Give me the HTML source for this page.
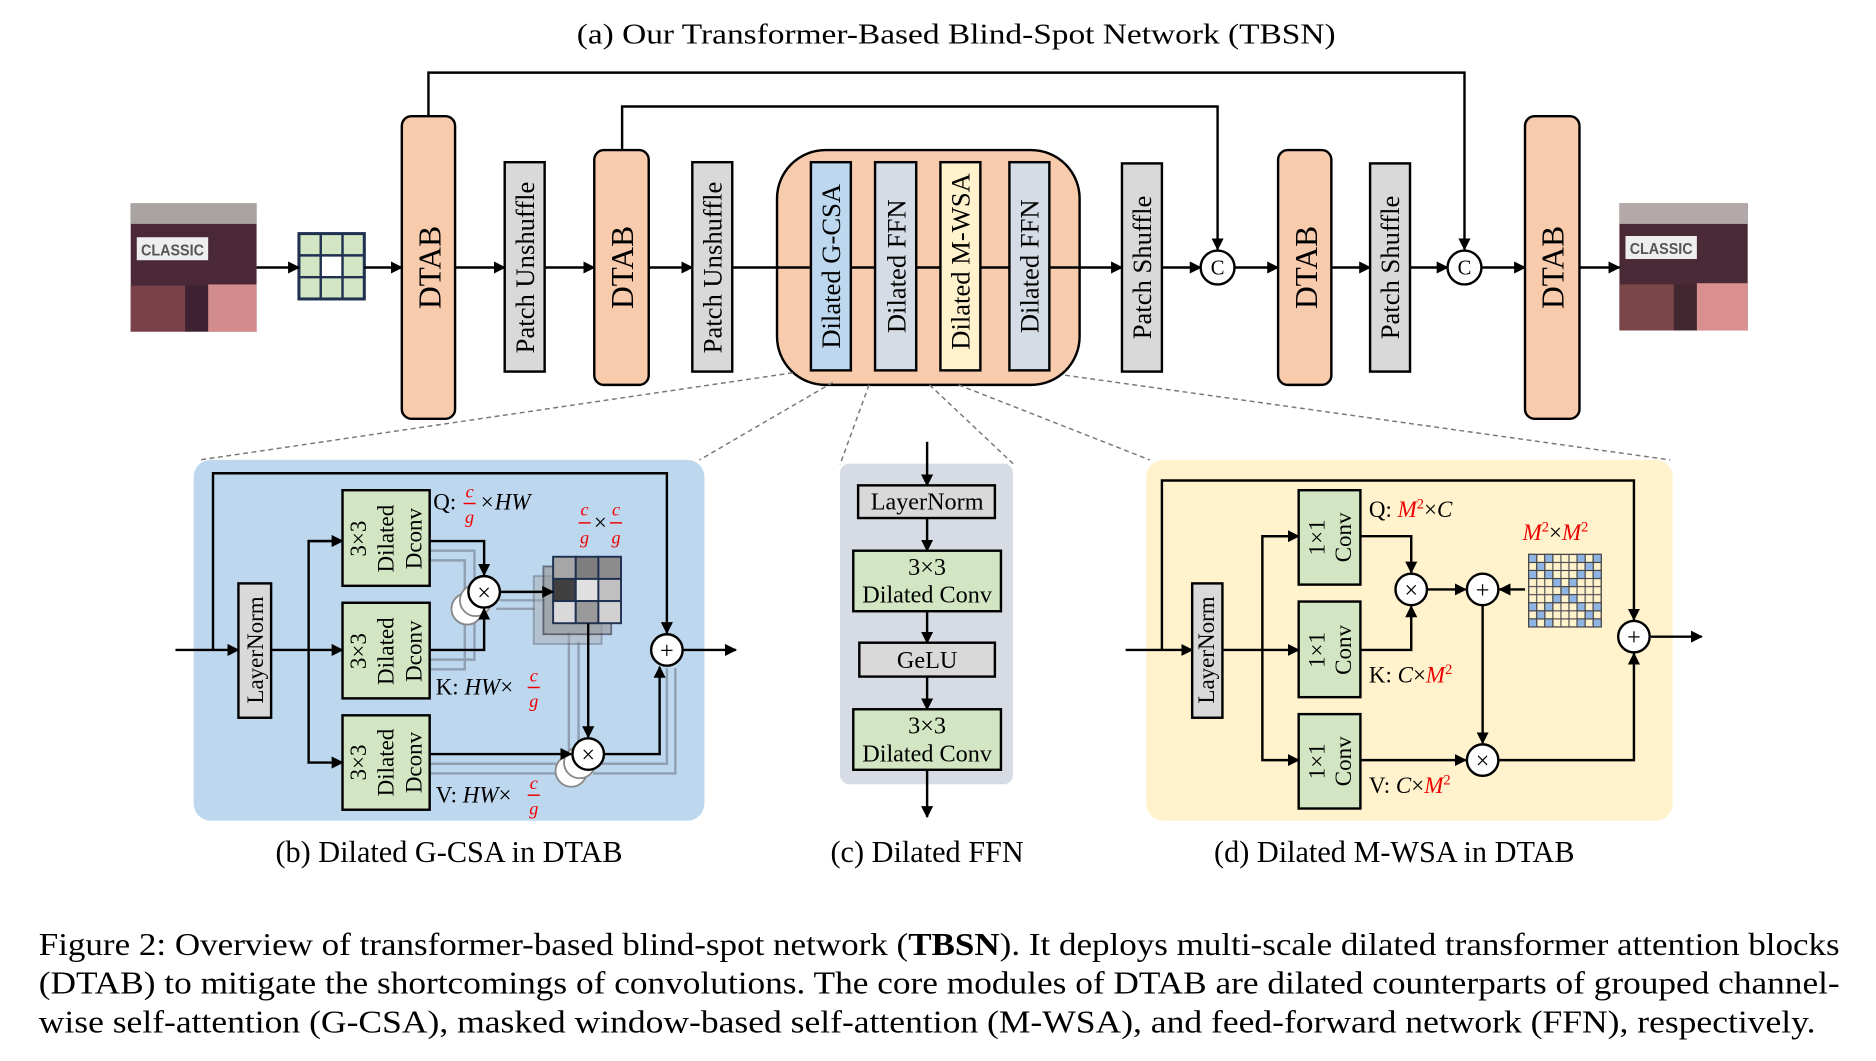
<!DOCTYPE html>
<html><head><meta charset="utf-8"><style>html,body{margin:0;padding:0;background:#fff}svg{display:block}svg text{font-family:"Liberation Serif","Times New Roman",serif}</style></head>
<body>
<svg width="1876" height="1061" viewBox="0 0 1550 876.6" preserveAspectRatio="none" xmlns="http://www.w3.org/2000/svg">
<defs>
<marker id="ar" markerWidth="10" markerHeight="10" refX="9" refY="5" orient="auto" markerUnits="userSpaceOnUse"><path d="M0,0 L10,5 L0,10 z" fill="#000"/></marker>
<pattern id="g9" x="1263" y="458" width="6.667" height="6.667" patternUnits="userSpaceOnUse"><rect width="6.667" height="6.667" fill="#fff2cc" stroke="#444" stroke-width="0.9"/></pattern>
</defs>
<text x="790" y="36" font-size="24" text-anchor="middle" textLength="627" lengthAdjust="spacingAndGlyphs">(a) Our Transformer-Based Blind-Spot Network (TBSN)</text>

<g stroke="#000" stroke-width="2" fill="none">
<polyline points="354,96 354,60 1210,60 1210,206" marker-end="url(#ar)"/>
<polyline points="514,124 514,88 1006,88 1006,206" marker-end="url(#ar)"/>
</g>

<g>
<rect x="108" y="168" width="104" height="106" fill="#4a2838"/>
<rect x="108" y="168" width="104" height="17" fill="#a9a3a2"/>
<rect x="108" y="236" width="45" height="38" fill="#7a4248"/>
<rect x="153" y="236" width="19" height="38" fill="#3e2232"/>
<rect x="172" y="235" width="40" height="39" fill="#d38c8c"/>
<rect x="113" y="196" width="59" height="19" fill="#eee"/>
<text x="142.5" y="211" style="font-family:'Liberation Sans',sans-serif" font-weight="bold" font-size="13" fill="#555" text-anchor="middle" textLength="52" lengthAdjust="spacingAndGlyphs">CLASSIC</text>
<rect x="1338" y="168" width="106" height="105" fill="#4a2a36"/>
<rect x="1338" y="168" width="106" height="17" fill="#b3a9a9"/>
<rect x="1338" y="235" width="45" height="38" fill="#7a4648"/>
<rect x="1383" y="235" width="19" height="38" fill="#42262f"/>
<rect x="1402" y="234" width="42" height="39" fill="#d9908e"/>
<rect x="1343" y="195" width="59" height="19" fill="#eee"/>
<text x="1372.5" y="210" style="font-family:'Liberation Sans',sans-serif" font-weight="bold" font-size="13" fill="#555" text-anchor="middle" textLength="52" lengthAdjust="spacingAndGlyphs">CLASSIC</text>
</g>
<g>
<rect x="247" y="193" width="54" height="54" fill="#d3e6c3" stroke="#1f3050" stroke-width="2.5"/>
<rect x="265" y="211" width="18" height="18" fill="#fff"/>
<path d="M265,193V247M283,193V247M247,211H301M247,229H301" stroke="#1f3050" stroke-width="2"/>
</g>

<g stroke="#000" stroke-width="2" fill="none" marker-end="url(#ar)">
<line x1="212" y1="221" x2="247" y2="221"/>
<line x1="301" y1="221" x2="332" y2="221"/>
<line x1="376" y1="221" x2="417" y2="221"/>
<line x1="450" y1="221" x2="491" y2="221"/>
<line x1="536" y1="221" x2="572" y2="221"/>
<line x1="960" y1="221" x2="992" y2="221"/>
<line x1="1020" y1="221" x2="1056" y2="221"/>
<line x1="1100" y1="221" x2="1132" y2="221"/>
<line x1="1165" y1="221" x2="1196" y2="221"/>
<line x1="1224" y1="221" x2="1260" y2="221"/>
<line x1="1305" y1="221" x2="1338" y2="221"/>
</g>

<rect x="642" y="124" width="250" height="194" rx="40" fill="#f8cbad" stroke="#000" stroke-width="2"/>
<line x1="605" y1="221" x2="927" y2="221" stroke="#000" stroke-width="2" marker-end="url(#ar)"/>

<g stroke="#000" stroke-width="2">
<rect x="332" y="96" width="44" height="250" rx="8" fill="#f8cbad"/>
<rect x="491" y="124" width="45" height="194" rx="8" fill="#f8cbad"/>
<rect x="1056" y="124" width="44" height="194" rx="8" fill="#f8cbad"/>
<rect x="1260" y="96" width="45" height="250" rx="8" fill="#f8cbad"/>
<rect x="417" y="134" width="33" height="173" fill="#d9d9d9"/>
<rect x="572" y="134" width="33" height="173" fill="#d9d9d9"/>
<rect x="927" y="135" width="33" height="172" fill="#d9d9d9"/>
<rect x="1132" y="135" width="33" height="172" fill="#d9d9d9"/>
<rect x="670" y="134" width="33" height="172" fill="#bdd7ee"/>
<rect x="723" y="134" width="34" height="172" fill="#d6dce5"/>
<rect x="777" y="134" width="33" height="172" fill="#fff2cc"/>
<rect x="834" y="134" width="33" height="172" fill="#d6dce5"/>
<circle cx="1006" cy="221" r="14" fill="#fff"/>
<circle cx="1210" cy="221" r="14" fill="#fff"/>
</g>
<text x="1006" y="227" font-size="17" text-anchor="middle">C</text>
<text x="1210" y="227" font-size="17" text-anchor="middle">C</text>

<g font-size="26" text-anchor="middle">
<text transform="translate(364,221) rotate(-90)">DTAB</text>
<text transform="translate(523,221) rotate(-90)">DTAB</text>
<text transform="translate(1088,221) rotate(-90)">DTAB</text>
<text transform="translate(1292,221) rotate(-90)">DTAB</text>
</g>
<g font-size="22" text-anchor="middle">
<text transform="translate(441,221) rotate(-90)">Patch Unshuffle</text>
<text transform="translate(596,221) rotate(-90)">Patch Unshuffle</text>
<text transform="translate(951,221) rotate(-90)">Patch Shuffle</text>
<text transform="translate(1156,221) rotate(-90)">Patch Shuffle</text>
<text transform="translate(694,220) rotate(-90)">Dilated G-CSA</text>
<text transform="translate(748,220) rotate(-90)">Dilated FFN</text>
<text transform="translate(801,216) rotate(-90)">Dilated M-WSA</text>
<text transform="translate(858,220) rotate(-90)">Dilated FFN</text>
</g>

<g stroke="#777" stroke-width="1.2" stroke-dasharray="4,3" fill="none">
<line x1="655" y1="308" x2="165" y2="380"/>
<line x1="688" y1="316" x2="578" y2="380"/>
<line x1="718" y1="318" x2="694" y2="384"/>
<line x1="768" y1="318" x2="838" y2="384"/>
<line x1="792" y1="318" x2="950" y2="380"/>
<line x1="880" y1="310" x2="1380" y2="380"/>
</g>

<!-- panel b -->
<rect x="160" y="380" width="422" height="298" rx="14" fill="#bdd7ee"/>
<g stroke="#7d8a99" stroke-width="2" fill="none" opacity="0.7">
<polyline points="355,455 392,455 392,490"/>
<polyline points="355,463 384,463 384,497"/>
<polyline points="355,545 392,545 392,505"/>
<polyline points="355,553 384,553 384,512"/>
<polyline points="413,496 450,496"/>
<polyline points="410,503 442,503"/>
<polyline points="478,530 478,618"/>
<polyline points="470,522 470,625"/>
<polyline points="355,631 470,631"/>
<polyline points="355,639 462,639"/>
<polyline points="495,631 551,631 551,552"/>
<polyline points="490,639 558,639 558,552"/>
</g>
<g fill="#fff" stroke="#888" stroke-width="1.5">
<circle cx="386" cy="503" r="13"/><circle cx="393" cy="496" r="13"/>
<circle cx="472" cy="637" r="13"/><circle cx="479" cy="630" r="13"/>
</g>
<g opacity="0.45" stroke="#556" stroke-width="1.5" fill="#aaa">
<rect x="441" y="476" width="56" height="56"/>
</g>
<g opacity="0.65" stroke="#334" stroke-width="1.5" fill="#999">
<rect x="449" y="468" width="56" height="56"/>
</g>
<g stroke="#1f3050" stroke-width="1.6">
<rect x="457" y="460" width="18.7" height="18.3" fill="#a6a6a6"/>
<rect x="475.7" y="460" width="18.7" height="18.3" fill="#7f7f7f"/>
<rect x="494.4" y="460" width="18.7" height="18.3" fill="#8c8c8c"/>
<rect x="457" y="478.3" width="18.7" height="18.3" fill="#404040"/>
<rect x="475.7" y="478.3" width="18.7" height="18.3" fill="#e0e0e0"/>
<rect x="494.4" y="478.3" width="18.7" height="18.3" fill="#c0c0c0"/>
<rect x="457" y="496.6" width="18.7" height="18.3" fill="#d9d9d9"/>
<rect x="475.7" y="496.6" width="18.7" height="18.3" fill="#9a9a9a"/>
<rect x="494.4" y="496.6" width="18.7" height="18.3" fill="#d0d0d0"/>
</g>
<g stroke="#000" stroke-width="2" fill="none">
<polyline points="145,537 197,537" marker-end="url(#ar)"/>
<polyline points="176,537 176,391 551,391 551,523" marker-end="url(#ar)"/>
<line x1="224" y1="537" x2="283" y2="537" marker-end="url(#ar)"/>
<polyline points="283,447 255,447 255,630 283,630" marker-end="url(#ar)"/>
<line x1="255" y1="447" x2="283" y2="447" marker-end="url(#ar)"/>
<polyline points="355,447 400,447 400,475" marker-end="url(#ar)"/>
<polyline points="355,537 400,537 400,503" marker-end="url(#ar)"/>
<line x1="413" y1="489" x2="457" y2="489" marker-end="url(#ar)"/>
<line x1="486" y1="515" x2="486" y2="609" marker-end="url(#ar)"/>
<line x1="355" y1="623" x2="472" y2="623" marker-end="url(#ar)"/>
<polyline points="499,623 545,623 545,551" marker-end="url(#ar)"/>
<line x1="564" y1="537" x2="608" y2="537" marker-end="url(#ar)"/>
</g>
<g stroke="#000" stroke-width="2">
<rect x="197" y="482" width="27" height="111" fill="#d9d9d9"/>
<rect x="283" y="405" width="72" height="79" fill="#d3e6c3"/>
<rect x="283" y="498" width="72" height="79" fill="#d3e6c3"/>
<rect x="283" y="591" width="72" height="78" fill="#d3e6c3"/>
<circle cx="400" cy="489" r="13" fill="#fff"/>
<circle cx="486" cy="623" r="13" fill="#fff"/>
<circle cx="551" cy="537" r="13" fill="#fff"/>
</g>
<g font-size="19" text-anchor="middle">
<text transform="translate(211,537) rotate(-90)" dominant-baseline="central">LayerNorm</text>
<text transform="translate(296,445) rotate(-90)" dominant-baseline="central">3×3</text>
<text transform="translate(319,445) rotate(-90)" dominant-baseline="central">Dilated</text>
<text transform="translate(342,445) rotate(-90)" dominant-baseline="central">Dconv</text>
<text transform="translate(296,538) rotate(-90)" dominant-baseline="central">3×3</text>
<text transform="translate(319,538) rotate(-90)" dominant-baseline="central">Dilated</text>
<text transform="translate(342,538) rotate(-90)" dominant-baseline="central">Dconv</text>
<text transform="translate(296,630) rotate(-90)" dominant-baseline="central">3×3</text>
<text transform="translate(319,630) rotate(-90)" dominant-baseline="central">Dilated</text>
<text transform="translate(342,630) rotate(-90)" dominant-baseline="central">Dconv</text>
</g>
<g font-size="20" text-anchor="middle">
<text x="400" y="496">×</text><text x="486" y="630">×</text><text x="551" y="544">+</text>
</g>
<g font-size="19">
<text x="358" y="421">Q:</text><text x="396" y="421" font-style="italic">×HW</text>
<text x="360" y="574">K: <tspan font-style="italic">HW</tspan>×</text>
<text x="360" y="663">V: <tspan font-style="italic">HW</tspan>×</text>
<text x="496" y="438" text-anchor="middle">×</text>
</g>
<g fill="#e00" font-size="15" font-style="italic" text-anchor="middle">
<text x="388" y="411">c</text><text x="388" y="432">g</text>
<text x="441" y="563">c</text><text x="441" y="584">g</text>
<text x="441" y="652">c</text><text x="441" y="673">g</text>
<text x="483" y="426">c</text><text x="483" y="449">g</text>
<text x="509" y="426">c</text><text x="509" y="449">g</text>
</g>
<g stroke="#e00" stroke-width="1.2">
<line x1="383" y1="416" x2="393" y2="416"/>
<line x1="436" y1="568" x2="446" y2="568"/>
<line x1="436" y1="657" x2="446" y2="657"/>
<line x1="478" y1="432" x2="488" y2="432"/>
<line x1="504" y1="432" x2="514" y2="432"/>
</g>

<!-- panel c -->
<rect x="694" y="383" width="143" height="265" rx="8" fill="#d6dbe4"/>
<g stroke="#000" stroke-width="2" fill="none" marker-end="url(#ar)">
<line x1="766" y1="365" x2="766" y2="401"/>
<line x1="766" y1="428" x2="766" y2="455"/>
<line x1="766" y1="505" x2="766" y2="531"/>
<line x1="766" y1="559" x2="766" y2="586"/>
<line x1="766" y1="636" x2="766" y2="675"/>
</g>
<g stroke="#000" stroke-width="2">
<rect x="709" y="401" width="113" height="27" fill="#d9d9d9"/>
<rect x="705" y="455" width="122" height="50" fill="#d3e6c3"/>
<rect x="710" y="531" width="112" height="28" fill="#d9d9d9"/>
<rect x="705" y="586" width="122" height="50" fill="#d3e6c3"/>
</g>
<g font-size="20" text-anchor="middle">
<text x="766" y="421">LayerNorm</text>
<text x="766" y="475">3×3</text><text x="766" y="498">Dilated Conv</text>
<text x="766" y="552">GeLU</text>
<text x="766" y="606">3×3</text><text x="766" y="629">Dilated Conv</text>
</g>

<!-- panel d -->
<rect x="947" y="380" width="435" height="298" rx="14" fill="#fff2cc"/>
<g stroke="#000" stroke-width="2" fill="none">
<line x1="930" y1="537" x2="985" y2="537" marker-end="url(#ar)"/>
<polyline points="960,537 960,397 1350,397 1350,512" marker-end="url(#ar)"/>
<line x1="1010" y1="537" x2="1073" y2="537" marker-end="url(#ar)"/>
<polyline points="1073,443 1043,443 1043,628 1073,628" marker-end="url(#ar)"/>
<line x1="1043" y1="443" x2="1073" y2="443" marker-end="url(#ar)"/>
<polyline points="1124,443 1166,443 1166,473" marker-end="url(#ar)"/>
<polyline points="1124,537 1166,537 1166,501" marker-end="url(#ar)"/>
<line x1="1179" y1="487" x2="1211" y2="487" marker-end="url(#ar)"/>
<line x1="1260" y1="487" x2="1239" y2="487" marker-end="url(#ar)"/>
<line x1="1225" y1="500" x2="1225" y2="614" marker-end="url(#ar)"/>
<line x1="1124" y1="628" x2="1211" y2="628" marker-end="url(#ar)"/>
<polyline points="1239,628 1350,628 1350,540" marker-end="url(#ar)"/>
<line x1="1364" y1="526" x2="1406" y2="526" marker-end="url(#ar)"/>
</g>
<g stroke="#000" stroke-width="2">
<rect x="985" y="482" width="25" height="111" fill="#d9d9d9"/>
<rect x="1073" y="405" width="51" height="78" fill="#d3e6c3"/>
<rect x="1073" y="497" width="51" height="79" fill="#d3e6c3"/>
<rect x="1073" y="590" width="51" height="78" fill="#d3e6c3"/>
<circle cx="1166" cy="487" r="13" fill="#fff"/>
<circle cx="1225" cy="487" r="13" fill="#fff"/>
<circle cx="1225" cy="628" r="13" fill="#fff"/>
<circle cx="1350" cy="526" r="13" fill="#fff"/>
</g>
<rect x="1263" y="458" width="60" height="60" fill="url(#g9)" stroke="#444" stroke-width="1"/>
<g fill="#8fb4e3" stroke="#444" stroke-width="0.9">
<rect x="1263" y="458" width="6.67" height="6.67"/><rect x="1276.3" y="458" width="6.67" height="6.67"/><rect x="1303" y="458" width="6.67" height="6.67"/><rect x="1316.3" y="458" width="6.67" height="6.67"/>
<rect x="1269.7" y="464.7" width="6.67" height="6.67"/><rect x="1309.7" y="464.7" width="6.67" height="6.67"/>
<rect x="1263" y="471.3" width="6.67" height="6.67"/><rect x="1276.3" y="471.3" width="6.67" height="6.67"/><rect x="1303" y="471.3" width="6.67" height="6.67"/><rect x="1316.3" y="471.3" width="6.67" height="6.67"/>
<rect x="1283" y="478" width="6.67" height="6.67"/><rect x="1296.3" y="478" width="6.67" height="6.67"/>
<rect x="1289.7" y="484.7" width="6.67" height="6.67"/>
<rect x="1283" y="491.3" width="6.67" height="6.67"/><rect x="1296.3" y="491.3" width="6.67" height="6.67"/>
<rect x="1263" y="498" width="6.67" height="6.67"/><rect x="1276.3" y="498" width="6.67" height="6.67"/><rect x="1303" y="498" width="6.67" height="6.67"/><rect x="1316.3" y="498" width="6.67" height="6.67"/>
<rect x="1269.7" y="504.7" width="6.67" height="6.67"/><rect x="1309.7" y="504.7" width="6.67" height="6.67"/>
<rect x="1263" y="511.3" width="6.67" height="6.67"/><rect x="1276.3" y="511.3" width="6.67" height="6.67"/><rect x="1303" y="511.3" width="6.67" height="6.67"/><rect x="1316.3" y="511.3" width="6.67" height="6.67"/>
</g>
<g font-size="19" text-anchor="middle">
<text transform="translate(997,537) rotate(-90)" dominant-baseline="central">LayerNorm</text>
<text transform="translate(1088,444) rotate(-90)" dominant-baseline="central">1×1</text>
<text transform="translate(1110,444) rotate(-90)" dominant-baseline="central">Conv</text>
<text transform="translate(1088,537) rotate(-90)" dominant-baseline="central">1×1</text>
<text transform="translate(1110,537) rotate(-90)" dominant-baseline="central">Conv</text>
<text transform="translate(1088,629) rotate(-90)" dominant-baseline="central">1×1</text>
<text transform="translate(1110,629) rotate(-90)" dominant-baseline="central">Conv</text>
</g>
<g font-size="20" text-anchor="middle">
<text x="1166" y="494">×</text><text x="1225" y="494">+</text><text x="1225" y="635">×</text><text x="1350" y="533">+</text>
</g>
<g font-size="19">
<text x="1131" y="427">Q: <tspan fill="#e00" font-style="italic">M</tspan><tspan fill="#e00" font-size="12" dy="-7">2</tspan><tspan dy="7">×</tspan><tspan font-style="italic">C</tspan></text>
<text x="1258" y="446" fill="#e00"><tspan font-style="italic">M</tspan><tspan font-size="12" dy="-7">2</tspan><tspan dy="7" fill="#000">×</tspan><tspan font-style="italic">M</tspan><tspan font-size="12" dy="-7">2</tspan></text>
<text x="1131" y="564">K: <tspan font-style="italic">C</tspan>×<tspan fill="#e00" font-style="italic">M</tspan><tspan fill="#e00" font-size="12" dy="-7">2</tspan></text>
<text x="1131" y="655">V: <tspan font-style="italic">C</tspan>×<tspan fill="#e00" font-style="italic">M</tspan><tspan fill="#e00" font-size="12" dy="-7">2</tspan></text>
</g>

<g font-size="25" text-anchor="middle">
<text x="371" y="712">(b) Dilated G-CSA in DTAB</text>
<text x="766" y="712">(c) Dilated FFN</text>
<text x="1152" y="712">(d) Dilated M-WSA in DTAB</text>
</g>
<g font-size="26">
<text x="32" y="789" textLength="1488" lengthAdjust="spacingAndGlyphs">Figure 2: Overview of transformer-based blind-spot network (<tspan font-weight="bold">TBSN</tspan>). It deploys multi-scale dilated transformer attention blocks</text>
<text x="32" y="821" textLength="1488" lengthAdjust="spacingAndGlyphs">(DTAB) to mitigate the shortcomings of convolutions. The core modules of DTAB are dilated counterparts of grouped channel-</text>
<text x="32" y="853" textLength="1468" lengthAdjust="spacingAndGlyphs">wise self-attention (G-CSA), masked window-based self-attention (M-WSA), and feed-forward network (FFN), respectively.</text>
</g>
</svg>
</body></html>
